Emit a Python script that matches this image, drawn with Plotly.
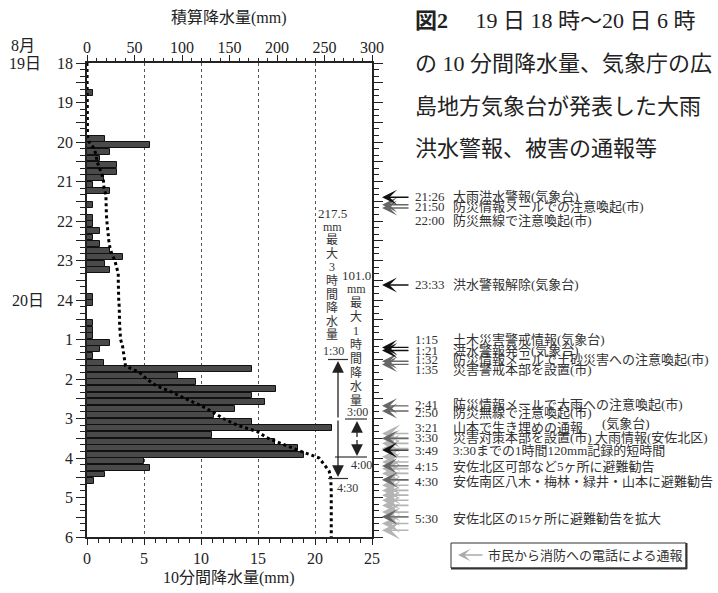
import plotly.graph_objects as go

# ---------------- data ----------------
# 10-minute rainfall (mm), consecutive intervals from 19 Aug 18:00 to 20 Aug 6:00
rain_10min = [
    0, 0, 0, 0, 0.5, 0,            # 18:00-19:00
    0, 0, 0, 0, 0, 1.6,            # 19:00-20:00
    5.5, 2.0, 1.1, 2.6, 2.6, 1.5,  # 20:00-21:00
    0.5, 2.0, 0, 0.5, 0, 0.5,      # 21:00-22:00
    0.5, 1.1, 0.5, 1.1, 2.0, 3.2,  # 22:00-23:00
    1.6, 2.0, 0, 0, 0, 0.5,        # 23:00-24:00
    0.5, 0, 0, 0.5, 0.5, 0.5,      # 0:00-1:00
    2.0, 1.1, 0.5, 1.5, 14.5, 8.0, # 1:00-2:00
    9.6, 16.6, 14.5, 15.6, 13.0, 11.1,  # 2:00-3:00
    14.5, 21.5, 11.0, 16.5, 18.5, 19.0, # 3:00-4:00
    5.0, 5.5, 1.6, 0.6, 0, 0,      # 4:00-5:00
    0, 0, 0, 0, 0, 0,              # 5:00-6:00
]
hour_labels = ["18", "19", "20", "21", "22", "23", "24", "1", "2", "3", "4", "5", "6"]
bottom_ticks = [0, 5, 10, 15, 20, 25]
top_ticks = [0, 50, 100, 150, 200, 250, 300]

# events: (time label, text, row position in hours after 19日18時)
event_times = ["21:26", "21:50", "22:00", "23:33", "1:15", "1:21", "1:32", "1:35",
               "2:41", "2:50", "3:21", "3:30", "3:49", "4:15", "4:30", "5:30"]
event_texts = ["大雨洪水警報(気象台)", "防災情報メールでの注意喚起(市)", "防災無線で注意喚起(市)",
               "洪水警報解除(気象台)", "土木災害警戒情報(気象台)", "洪水警報発令(気象台)",
               "防災情報メールで土砂災害への注意喚起(市)", "災害警戒本部を設置(市)",
               "防災情報メールで大雨への注意喚起(市)", "防災無線で注意喚起(市)",
               "山本で生き埋めの通報", "災害対策本部を設置(市) 大雨情報(安佐北区)",
               "3:30までの1時間120mm記録的短時間", "安佐北区可部など5ヶ所に避難勧告",
               "安佐南区八木・梅林・緑井・山本に避難勧告", "安佐北区の15ヶ所に避難勧告を拡大"]
event_rows = [3.39, 3.64, 3.99, 5.62, 7.01, 7.29, 7.50, 7.75,
              8.64, 8.86, 9.24, 9.47, 9.80, 10.21, 10.59, 11.53]

arrows_agency = [3.40, 5.62, 7.20, 7.28, 9.80]
arrows_city = [3.59, 3.67, 7.55, 7.63, 8.68, 8.81, 9.50, 10.20, 10.55, 11.49]
arrows_calls = [9.38, 9.51, 9.63, 9.76, 9.97, 10.10, 10.27, 10.39, 10.56, 10.69,
                10.82, 10.94, 11.07, 11.20, 11.37, 11.49, 11.66, 11.83]

max3h_label = ["217.5", "mm", "最", "大", "3", "時", "間", "降", "水", "量"]
max1h_label = ["101.0", "mm", "最", "大", "1", "時", "間", "降", "水", "量"]

# ---------------- derived ----------------
bar_pos = [(i + 0.5) / 6 for i in range(len(rain_10min))]
cum_pos = [k / 6 for k in range(len(rain_10min) + 1)]
cum_vals = [0]
for v in rain_10min:
    cum_vals.append(cum_vals[-1] + v)

SERIF = "'Liberation Serif', 'Times New Roman', 'Noto Sans CJK JP', serif"
X0, X1, Y0, Y1 = 87, 372, 63, 537


def px(x):
    return (x - X0) / (X1 - X0)


def py(y):
    return (Y1 - y) / (Y1 - Y0)


fig = go.Figure()
fig.add_trace(go.Bar(
    y=bar_pos, x=rain_10min, orientation="h", width=[1 / 6 * 0.9] * len(rain_10min),
    marker=dict(color="#4a4a4a", line=dict(color="#111111", width=1)),
    xaxis="x", yaxis="y", showlegend=False, hoverinfo="skip"))
fig.add_trace(go.Scatter(
    y=cum_pos, x=cum_vals, mode="lines", line=dict(color="black", width=3, dash="dot"),
    xaxis="x2", yaxis="y", showlegend=False, hoverinfo="skip"))

ytickvals = [k * 0.5 for k in range(25)]
yticktext = [hour_labels[k // 2] if k % 2 == 0 else "" for k in range(25)]

fig.update_layout(
    width=718, height=593,
    margin=dict(l=X0, r=718 - X1, t=Y0, b=593 - Y1, pad=0),
    paper_bgcolor="white", plot_bgcolor="white",
    font=dict(family=SERIF, color="#222"),
    bargap=0,
    xaxis=dict(range=[0, 25], tickvals=bottom_ticks, ticks="outside", ticklen=6, tickwidth=1.2,
               tickcolor="#222", minor=dict(dtick=1, ticklen=4, ticks="outside", tickcolor="#222"),
               showgrid=True, griddash="dot", gridcolor="#555", gridwidth=1, zeroline=False,
               showline=True, linecolor="#222", linewidth=1.5, mirror=True,
               tickfont=dict(size=16, family=SERIF)),
    xaxis2=dict(range=[0, 300], overlaying="x", side="top", tickvals=top_ticks, ticks="outside",
                ticklen=7, tickwidth=1.2, tickcolor="#222", ticklabelstandoff=-4,
                minor=dict(dtick=10, ticklen=4, ticks="outside", tickcolor="#222"),
                showgrid=False, zeroline=False, showline=False,
                tickfont=dict(size=16, family=SERIF)),
    yaxis=dict(range=[12, 0], tickvals=ytickvals, ticktext=yticktext, ticks="outside",
               ticklen=9, tickwidth=1.2, tickcolor="#222",
               minor=dict(dtick=1 / 6, tick0=0, ticklen=5, ticks="outside", tickcolor="#222"),
               showgrid=False, zeroline=False, showline=True, linecolor="#222", linewidth=1.5,
               mirror="ticks", tickfont=dict(size=16, family=SERIF)),
)

ann = []
shapes = []


def text(x, y, s, size=12, anchor="center", color="#222", family=SERIF):
    ann.append(dict(x=px(x), y=py(y), xref="paper", yref="paper", text=s, showarrow=False,
                    xanchor=anchor, yanchor="middle", font=dict(size=size, color=color, family=family)))


# axis titles and date labels
text(229, 17, "積算降水量(mm)", 16)
text(229, 578, "10分間降水量(mm)", 16)
text(23, 45, "8月", 16)
text(25, 63, "19日", 16)
text(28, 300, "20日", 16)

# title block
text(413, 20, "<b>図2</b>　 19 日 18 時〜20 日 6 時", 22, "left")
text(413, 63, "の 10 分間降水量、気象庁の広", 22, "left")
text(413, 106, "島地方気象台が発表した大雨", 22, "left")
text(413, 148, "洪水警報、被害の通報等", 22, "left")

# event arrows
for t in arrows_calls:
    ann.append(dict(x=px(382), y=t, xref="paper", yref="y", ax=28, ay=0, text="",
                    showarrow=True, arrowhead=3, arrowsize=1.9, arrowwidth=1.6, arrowcolor="#b4b4b4"))
for t in arrows_city:
    ann.append(dict(x=px(382), y=t, xref="paper", yref="y", ax=28, ay=0, text="",
                    showarrow=True, arrowhead=3, arrowsize=1.8, arrowwidth=1.4, arrowcolor="#666666"))
for t in arrows_agency:
    ann.append(dict(x=px(382), y=t, xref="paper", yref="y", ax=28, ay=0, text="",
                    showarrow=True, arrowhead=3, arrowsize=1.8, arrowwidth=1.4, arrowcolor="#111111"))

for tl, tx, r in zip(event_times, event_texts, event_rows):
    ann.append(dict(x=px(413), y=r, xref="paper", yref="y", text=tl, showarrow=False,
                    xanchor="left", yanchor="middle", font=dict(size=13, family=SERIF, color="#333")))
    ann.append(dict(x=px(451), y=r, xref="paper", yref="y", text=tx, showarrow=False,
                    xanchor="left", yanchor="middle", font=dict(size=13, family=SERIF, color="#333")))
ann.append(dict(x=px(626), y=9.12, xref="paper", yref="y", text="(気象台)", showarrow=False,
                xanchor="center", yanchor="middle", font=dict(size=13, family=SERIF, color="#333")))

# vertical max-rain labels
for k, s in enumerate(max3h_label):
    text(332, 213 + 13.6 * k, s, 13 if k == 0 else 12, color="#333")
for k, s in enumerate(max1h_label):
    text(356, 275 + 14.0 * k, s, 13 if k == 0 else 12, color="#333")

text(333, 351, "1:30", 12, color="#333")
text(347, 488, "4:30", 12, color="#333")
text(357, 412, "3:00", 12, color="#333")
text(361, 465, "4:00", 12, color="#333")


def hline(x0, x1, y, w=1.2, c="#333"):
    shapes.append(dict(type="line", xref="paper", yref="paper", x0=px(x0), x1=px(x1),
                       y0=py(y), y1=py(y), line=dict(color=c, width=w)))


hline(328, 348, 359.5)
hline(328, 348, 478.5)
hline(345, 367, 419)
hline(335, 367, 457)


def darrow(x, ytop, ybot):
    mid = (ytop + ybot) / 2
    for yend in (ytop, ybot):
        ann.append(dict(x=px(x), y=py(yend), xref="paper", yref="paper", ax=0, ay=mid - yend,
                        text="", showarrow=True, arrowhead=2, arrowsize=1.8, arrowwidth=1.3,
                        arrowcolor="#222"))


darrow(338, 361, 477)
darrow(357, 421, 456)

# legend box
shapes.append(dict(type="rect", xref="paper", yref="paper", x0=px(451), x1=px(686),
                   y0=py(568), y1=py(543), line=dict(color="#333", width=1)))
hline(451, 687, 568.5, 2)
shapes.append(dict(type="line", xref="paper", yref="paper", x0=px(686.5), x1=px(686.5),
                   y0=py(569), y1=py(543), line=dict(color="#333", width=2)))
ann.append(dict(x=px(458), y=py(555), xref="paper", yref="paper", ax=26, ay=0, text="",
                showarrow=True, arrowhead=3, arrowsize=1.4, arrowwidth=1.5, arrowcolor="#aaaaaa"))
text(486, 555, "市民から消防への電話による通報", 13, "left", color="#333")

fig.update_layout(annotations=ann, shapes=shapes)
fig.write_html("out.html", config={"displayModeBar": False},
               post_script="document.body.style.margin='0px';document.body.style.overflow='hidden';")
